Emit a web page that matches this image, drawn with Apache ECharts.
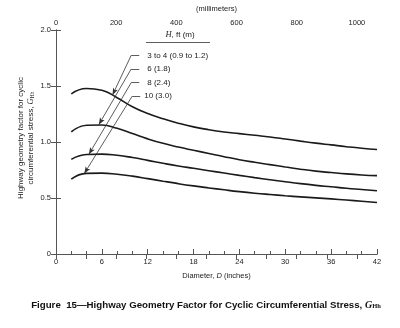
<!DOCTYPE html>
<html><head><meta charset="utf-8">
<script src="https://cdn.jsdelivr.net/npm/echarts@6/dist/echarts.min.js"></script>
<style>html,body{margin:0;padding:0;background:#fff}#c{width:400px;height:328px}</style>
</head><body><div id="c"></div>
<script>
// Data
const diameters = [2, 4, 6, 8, 10, 12, 14, 16, 18, 20, 22, 24, 26, 28, 30, 32, 34, 36, 38, 40, 42];
const h3to4 = [1.43, 1.478, 1.462, 1.395, 1.315, 1.255, 1.208, 1.168, 1.135, 1.11, 1.09, 1.075, 1.06, 1.045, 1.027, 1.008, 0.99, 0.974, 0.958, 0.944, 0.933];
const h6   = [1.09, 1.15, 1.152, 1.122, 1.075, 1.028, 0.988, 0.955, 0.926, 0.898, 0.869, 0.842, 0.819, 0.798, 0.777, 0.757, 0.740, 0.727, 0.715, 0.706, 0.70];
const h8   = [0.845, 0.888, 0.892, 0.881, 0.861, 0.836, 0.810, 0.786, 0.765, 0.744, 0.723, 0.702, 0.682, 0.663, 0.645, 0.628, 0.613, 0.600, 0.587, 0.576, 0.565];
const h10  = [0.668, 0.72, 0.722, 0.712, 0.695, 0.673, 0.65, 0.628, 0.608, 0.59, 0.573, 0.557, 0.543, 0.531, 0.520, 0.510, 0.501, 0.492, 0.482, 0.471, 0.46];
const seriesNames = ['3 to 4 (0.9 to 1.2)', '6 (1.8)', '8 (2.4)', '10 (3.0)'];
const xTicksInches = [0, 6, 12, 18, 24, 30, 36, 42];
const yTicks = [0, 0.5, 1.0, 1.5, 2.0];
const mmTicks = [0, 200, 400, 600, 800, 1000];
// Leader lines: [dash left end, dash right end, arrow tip on curve] in data coords
const leaders = [
  [[9.84, 1.774], [10.89, 1.774], [7.4, 1.42]],
  [[9.84, 1.652], [10.89, 1.652], [5.6, 1.155]],
  [[9.84, 1.530], [10.89, 1.530], [4.3, 0.89]],
  [[9.97, 1.409], [11.02, 1.409], [3.7, 0.718]]
];

const FONT = 'Liberation Sans';
const chart = echarts.init(document.getElementById('c'), null, {renderer: 'canvas'});
const values = [h3to4, h6, h8, h10];
const axisColor = '#555';
const series = values.map((v, i) => ({
  type: 'line', name: seriesNames[i],
  data: diameters.map((d, k) => [d, v[k]]),
  smooth: 0.5, showSymbol: false, symbol: 'none',
  lineStyle: {color: '#1a1a1a', width: 1.6},
  xAxisIndex: 0, yAxisIndex: 0, silent: true,
  markLine: {
    silent: true, animation: false,
    symbol: ['none', 'arrow'], symbolSize: [4, 7],
    label: {show: false},
    lineStyle: {color: '#333', width: 0.8, type: 'solid'},
    data: [
      [{coord: leaders[i][0], symbol: 'none'}, {coord: leaders[i][2], symbol: 'arrow'}],
      [{coord: leaders[i][0], symbol: 'none'}, {coord: leaders[i][1], symbol: 'none'}]
    ]
  }
}));

const fmtY = v => v === 0 ? '0' : v.toFixed(1);
chart.setOption({
  animation: false,
  textStyle: {fontFamily: FONT},
  grid: {left: 56, right: 23, top: 24, bottom: 74},
  xAxis: [
    {type: 'value', position: 'bottom', min: 0, max: 42, interval: 6,
     axisLine: {lineStyle: {color: axisColor, width: 1}},
     axisTick: {inside: true, length: 5, lineStyle: {color: axisColor}},
     minorTick: {show: true, splitNumber: 3, length: 3, lineStyle: {color: axisColor}},
     splitLine: {show: false},
     axisLabel: {fontFamily: FONT, fontSize: 7.5, color: '#222', margin: 4,
       formatter: v => xTicksInches.includes(v) ? String(v) : ''},
     name: 'Diameter, {i|D} (inches)', nameLocation: 'middle', nameGap: 18,
     nameTextStyle: {fontFamily: FONT, fontSize: 7.5, color: '#222',
       rich: {i: {fontStyle: 'italic', fontFamily: FONT, fontSize: 7.5, color: '#222'}}}},
    {type: 'value', position: 'top', min: 0, max: 42 * 25.4, interval: 100,
     axisLine: {lineStyle: {color: axisColor, width: 1}},
     axisTick: {inside: true, length: 5, lineStyle: {color: axisColor}},
     splitLine: {show: false},
     axisLabel: {fontFamily: FONT, fontSize: 7.5, color: '#222', margin: 3, showMaxLabel: false,
       formatter: v => mmTicks.includes(v) ? String(v) : ''},
     name: '(millimeters)', nameLocation: 'middle', nameGap: 17,
     nameTextStyle: {fontFamily: FONT, fontSize: 7.5, color: '#222'}}
  ],
  yAxis: [
    {type: 'value', position: 'left', min: 0, max: 2, interval: 0.5,
     axisLine: {show: true, lineStyle: {color: axisColor, width: 1}},
     axisTick: {show: true, inside: true, length: 5, lineStyle: {color: axisColor}},
     splitLine: {show: false},
     axisLabel: {fontFamily: FONT, fontSize: 7.5, color: '#222', margin: 5,
       formatter: v => yTicks.includes(v) ? fmtY(v) : ''}},
    {type: 'value', position: 'right', min: 0, max: 2, interval: 0.5,
     axisLine: {show: true, lineStyle: {color: axisColor, width: 1}},
     axisTick: {show: true, inside: true, length: 5, lineStyle: {color: axisColor}},
     splitLine: {show: false}, axisLabel: {show: false}}
  ],
  series: series
});

// Annotation texts
const labelOffsets = [8, 8, 8, 4];
const gtext = [];
leaders.forEach((l, i) => {
  const p = chart.convertToPixel({gridIndex: 0}, l[1]);
  gtext.push({type: 'text', x: p[0] + labelOffsets[i], y: p[1], silent: true,
    style: {text: seriesNames[i], font: '8px "Liberation Sans"', fill: '#222', align: 'left', verticalAlign: 'middle'}});
});
gtext.push({type: 'text', x: 180, y: 35, silent: true,
  style: {text: '{i|H}, ft (m)', font: '8px "Liberation Sans"', fill: '#222', align: 'center', verticalAlign: 'middle',
    rich: {i: {fontStyle: 'italic', fontFamily: 'Liberation Serif', fontSize: 8.5, fill: '#222'}}}});
gtext.push({type: 'line', silent: true, shape: {x1: 146, y1: 42.5, x2: 210, y2: 42.5}, style: {stroke: '#333', lineWidth: 0.8}});
// Y axis title
gtext.push({type: 'text', x: 25.5, y: 138, rotation: Math.PI / 2, silent: true,
  style: {text: 'Highway geometry factor for cyclic\ncircumferential stress, {i|G}{s|Hh}', font: '8px "Liberation Sans"', fill: '#222',
    align: 'center', verticalAlign: 'middle', lineHeight: 10,
    rich: {i: {fontStyle: 'italic', fontFamily: 'Liberation Serif', fontSize: 8.5, fill: '#222', lineHeight: 10},
           s: {fontSize: 5.5, fontFamily: 'Liberation Serif', fill: '#222', verticalAlign: 'bottom', lineHeight: 10}}}});
// Caption
gtext.push({type: 'text', x: 206, y: 305, silent: true,
  style: {text: 'Figure  15\u2014Highway Geometry Factor for Cyclic Circumferential Stress, {i|G}{s|Hh}',
    font: 'bold 9.7px "Liberation Sans"', fill: '#111', align: 'center', verticalAlign: 'middle',
    rich: {i: {fontStyle: 'italic', fontFamily: 'Liberation Serif', fontSize: 10, fontWeight: 'bold', fill: '#111'},
           s: {fontSize: 6.5, fontFamily: 'Liberation Serif', fontWeight: 'bold', fill: '#111', verticalAlign: 'bottom', padding: [3, 0, 0, 0]}}}});
chart.setOption({graphic: gtext});
</script></body></html>
